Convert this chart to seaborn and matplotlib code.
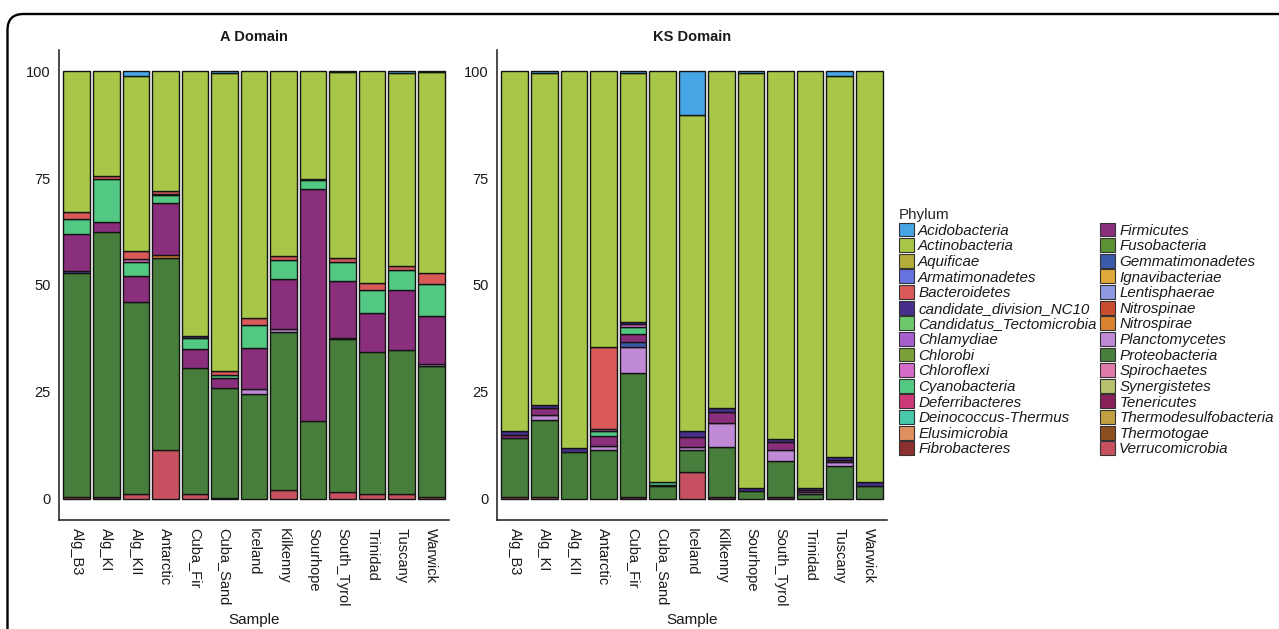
import numpy as np
import pandas as pd
import matplotlib
matplotlib.use("Agg")
import matplotlib.pyplot as plt
from matplotlib.patches import Patch, FancyBboxPatch
from matplotlib.transforms import IdentityTransform
from matplotlib.font_manager import FontProperties
import seaborn as sns

samples = ["Alg_B3", "Alg_KI", "Alg_KII", "Antarctic", "Cuba_Fir", "Cuba_Sand",
           "Iceland", "Kilkenny", "Sourhope", "South_Tyrol", "Trinidad", "Tuscany", "Warwick"]

phyla = ["Acidobacteria", "Actinobacteria", "Aquificae", "Armatimonadetes", "Bacteroidetes",
         "candidate_division_NC10", "Candidatus_Tectomicrobia", "Chlamydiae", "Chlorobi",
         "Chloroflexi", "Cyanobacteria", "Deferribacteres", "Deinococcus-Thermus",
         "Elusimicrobia", "Fibrobacteres", "Firmicutes", "Fusobacteria", "Gemmatimonadetes",
         "Ignavibacteriae", "Lentisphaerae", "Nitrospinae", "Nitrospirae", "Planctomycetes",
         "Proteobacteria", "Spirochaetes", "Synergistetes", "Tenericutes",
         "Thermodesulfobacteria", "Thermotogae", "Verrucomicrobia"]

phylum_colors = ["#47A5E5", "#A8C648", "#B3AC38", "#6672E0", "#DA5A5A",
                 "#472F8E", "#6CC86A", "#A65FCC", "#7AA038",
                 "#D66AC8", "#52C883", "#CD3A78", "#47C9A9",
                 "#E0905F", "#8C2F2F", "#8A2F7B", "#5B9233", "#3C5AAA",
                 "#E0A83A", "#8E99E2", "#C94D30", "#D9822F", "#C08AD6",
                 "#477E3B", "#E07AAA", "#B9C16F", "#8A2159",
                 "#C1A042", "#8C4F1F", "#C75161"]

# A domain: relative abundance (%) per sample
a_acidobacteria = [0, 0, 1.0, 0, 0, 0.3, 0, 0, 0, 0.2, 0, 0.4, 0.2]
a_actinobacteria = [33.0, 24.5, 41.1, 28.1, 61.9, 69.8, 57.8, 43.2, 25.1, 43.5, 49.6, 45.2, 47.0]
a_bacteroidetes = [1.6, 0.7, 1.8, 0.6, 0, 0.9, 1.5, 1.0, 0, 0.9, 1.6, 0.9, 2.6]
a_nc10 = [0, 0, 0, 0.3, 0.5, 0, 0, 0, 0.4, 0, 0, 0, 0]
a_chloroflexi = [0, 0, 0.6, 0, 0, 0, 0, 0, 0, 0, 0, 0, 0]
a_cyanobacteria = [3.5, 10.0, 3.3, 1.7, 2.6, 0.8, 5.5, 4.4, 2.1, 4.4, 5.4, 4.6, 7.4]
a_firmicutes = [8.6, 2.5, 6.1, 12.3, 4.4, 2.4, 9.6, 11.7, 54.2, 13.3, 9.0, 14.1, 11.2]
a_gemmatimonadetes = [0.4, 0, 0, 0, 0, 0, 0, 0, 0, 0.4, 0, 0, 0]
a_nitrospirae = [0, 0, 0, 0.7, 0, 0, 0, 0, 0, 0, 0, 0, 0]
a_planctomycetes = [0, 0, 0, 0, 0, 0, 1.0, 0.8, 0, 0, 0, 0, 0.5]
a_proteobacteria = [52.5, 62.0, 45.1, 44.9, 29.6, 25.6, 24.6, 36.9, 18.2, 35.8, 33.3, 33.7, 30.7]
a_tenericutes = [0, 0.3, 0, 0, 0, 0.2, 0, 0, 0, 0, 0, 0, 0]
a_verrucomicrobia = [0.4, 0, 1.0, 11.4, 1.0, 0, 0, 2.0, 0, 1.5, 1.1, 1.1, 0.4]

# KS domain: relative abundance (%) per sample
k_acidobacteria = [0, 0.3, 0, 0, 0.3, 0, 10.2, 0, 0.3, 0, 0, 1.1, 0]
k_actinobacteria = [84.1, 77.7, 88.2, 64.5, 58.3, 96.0, 73.9, 78.9, 97.2, 86.0, 97.4, 89.1, 96.0]
k_bacteroidetes = [0, 0, 0, 19.1, 0, 0, 0, 0, 0, 0, 0, 0, 0]
k_nc10 = [0.9, 0.9, 1.0, 0, 0.5, 0, 1.4, 0.9, 0.6, 0.8, 0.5, 0.8, 1.1]
k_chloroflexi = [0, 0, 0, 0.5, 0.8, 0, 0, 0, 0, 0, 0, 0, 0]
k_cyanobacteria = [0, 0, 0, 1.2, 1.6, 0.7, 0, 0, 0, 0, 0, 0, 0]
k_fibrobacteres = [0, 0, 0, 0, 0, 0.4, 0, 0, 0, 0, 0, 0, 0]
k_firmicutes = [0.9, 1.5, 0, 2.3, 1.9, 0, 2.5, 2.5, 0, 1.7, 0.6, 0.5, 0]
k_gemmatimonadetes = [0, 0, 0, 0, 1.0, 0, 0, 0, 0, 0, 0, 0, 0]
k_planctomycetes = [0, 1.1, 0, 0.9, 6.1, 0, 0.6, 5.7, 0, 2.8, 0.3, 0.8, 0]
k_proteobacteria = [13.8, 18.1, 10.8, 11.5, 29.2, 2.9, 5.2, 11.7, 1.9, 8.4, 1.2, 7.7, 2.9]
k_tenericutes = [0, 0, 0, 0, 0.3, 0, 0, 0.3, 0, 0.3, 0, 0, 0]
k_verrucomicrobia = [0.3, 0.4, 0, 0, 0, 0, 6.2, 0, 0, 0, 0, 0, 0]

a_domain = {
    "Acidobacteria": a_acidobacteria, "Actinobacteria": a_actinobacteria,
    "Bacteroidetes": a_bacteroidetes, "candidate_division_NC10": a_nc10,
    "Chloroflexi": a_chloroflexi, "Cyanobacteria": a_cyanobacteria,
    "Firmicutes": a_firmicutes, "Gemmatimonadetes": a_gemmatimonadetes,
    "Nitrospirae": a_nitrospirae, "Planctomycetes": a_planctomycetes,
    "Proteobacteria": a_proteobacteria, "Tenericutes": a_tenericutes,
    "Verrucomicrobia": a_verrucomicrobia,
}
ks_domain = {
    "Acidobacteria": k_acidobacteria, "Actinobacteria": k_actinobacteria,
    "Bacteroidetes": k_bacteroidetes, "candidate_division_NC10": k_nc10,
    "Chloroflexi": k_chloroflexi, "Cyanobacteria": k_cyanobacteria,
    "Fibrobacteres": k_fibrobacteres, "Firmicutes": k_firmicutes,
    "Gemmatimonadetes": k_gemmatimonadetes, "Planctomycetes": k_planctomycetes,
    "Proteobacteria": k_proteobacteria, "Tenericutes": k_tenericutes,
    "Verrucomicrobia": k_verrucomicrobia,
}

sns.set_style("white")
plt.rcParams["font.family"] = ["Liberation Sans", "DejaVu Sans"]

W, H = 1279, 629
fig = plt.figure(figsize=(W / 100, H / 100), dpi=100)
color_of = dict(zip(phyla, phylum_colors))
EDGE = "#141414"


def px_axes(x0, x1, ytop, ybot):
    return fig.add_axes([x0 / W, 1 - ybot / H, (x1 - x0) / W, (ybot - ytop) / H])


def draw_panel(ax, table, title):
    base = np.zeros(len(samples))
    # first phylum sits on top of each stack, so build from the last one upwards
    for name in reversed(phyla):
        vals = np.asarray(table.get(name, [0] * len(samples)), dtype=float)
        keep = vals > 0
        if keep.any():
            df = pd.DataFrame({"Sample": np.array(samples)[keep], "Abundance": vals[keep]})
            sns.barplot(data=df, x="Sample", y="Abundance", order=samples,
                        bottom=base[keep], color=color_of[name], saturation=1,
                        edgecolor=EDGE, linewidth=1.0, width=0.9, errorbar=None, ax=ax)
        base += vals

    ax.set_xlim(-0.6, len(samples) - 0.4)
    ax.set_ylim(-5, 105)
    ax.set_yticks([0, 25, 50, 75, 100])
    ax.set_yticklabels(["0", "25", "50", "75", "100"])
    ax.set_xticks(range(len(samples)))
    ax.set_xticklabels(samples, rotation=-90, ha="center", va="top")
    ax.tick_params(axis="both", labelsize=10.5, length=4, width=1,
                   direction="out", pad=2, colors="#333333", labelcolor="#1a1a1a")
    sns.despine(ax=ax)
    for side in ("left", "bottom"):
        ax.spines[side].set_linewidth(1.1)
        ax.spines[side].set_color("#1a1a1a")
    ax.set_ylabel("")
    ax.set_xlabel("Sample", fontsize=11, color="#1a1a1a")
    ax.xaxis.set_label_coords(0.5, -0.198)
    ax.text(0.5, 1 + 13 / 470, title, transform=ax.transAxes, ha="center", va="center",
            fontsize=10.5, fontweight="bold", color="#1a1a1a")


ax_a = px_axes(59, 449, 50, 520)
ax_k = px_axes(497, 887, 50, 520)
draw_panel(ax_a, a_domain, "A Domain")
draw_panel(ax_k, ks_domain, "KS Domain")

handles = [Patch(facecolor=c, edgecolor="#333333", linewidth=0.8) for c in phylum_colors]
leg = fig.legend(handles, phyla, loc="upper left", bbox_to_anchor=(899 / W, 1 - 208 / H),
                 ncol=2, frameon=False, title="Phylum", alignment="left",
                 prop=FontProperties(family="Liberation Sans", style="italic", size=10.9),
                 title_fontproperties=FontProperties(family="Liberation Sans", size=10.9),
                 handlelength=0.97, handleheight=1.03, labelspacing=0.035,
                 columnspacing=0.22, handletextpad=0.3, borderaxespad=0, borderpad=0)
for t in leg.get_texts():
    t.set_color("#1a1a1a")

# rounded frame around the figure
frame = FancyBboxPatch((7.5, -40), W + 60, H - 14 + 40,
                       boxstyle="round,pad=0,rounding_size=16",
                       transform=IdentityTransform(), fill=False,
                       edgecolor="black", linewidth=1.7)
fig.add_artist(frame)

fig.savefig("out.png", dpi=100)
